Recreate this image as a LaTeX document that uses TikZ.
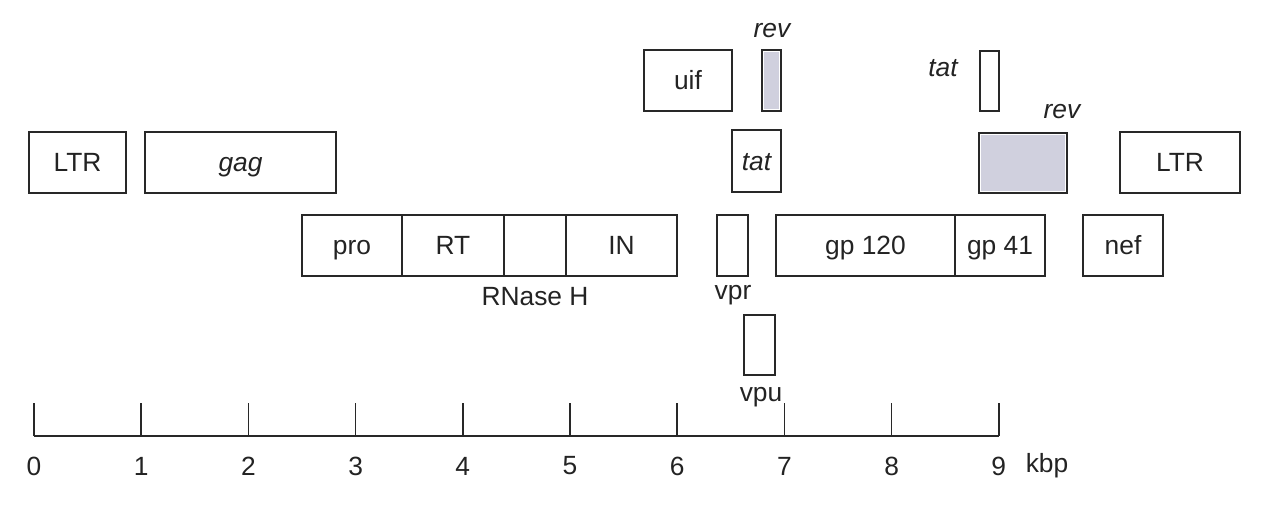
\documentclass[tikz,border=0pt]{standalone}
\usepackage{fontspec}
\setmainfont{Liberation Sans}
\definecolor{boxline}{RGB}{40,40,40}
\definecolor{txt}{RGB}{35,35,35}
\definecolor{revfill}{RGB}{208,208,222}
\newcommand\gbox[6]{\node[gbox, minimum width={(#4-#2)*0.02cm}, minimum height={(#5-#3)*0.02cm}] (#1) at ({(#2+#4)/2},{(#3+#5)/2}) {#6};}
\begin{document}
\begin{tikzpicture}[x=0.02cm,y=-0.02cm,
  gbox/.style={draw=boxline, line width=1pt, inner sep=0pt, outer sep=0pt, text=txt,
    text height=12.2pt, text depth=1.5pt, font=\fontsize{15}{17}\selectfont},
  lbl/.style={font=\fontsize{15}{17}\selectfont, inner sep=1pt, text=txt},
  ilbl/.style={lbl, font=\fontsize{15}{17}\selectfont\itshape},
  axisline/.style={draw=boxline, line width=1.2pt},
  tickline/.style={draw=boxline, line width=0.9pt}]
\useasboundingbox (0,0) rectangle (1261,504);
% row 1
\gbox{uif}{644}{50}{732}{111}{uif}
\gbox{revA}{762}{50}{781}{111}{}
\fill[revfill] ([xshift=1pt,yshift=1pt]revA.south west) rectangle ([xshift=-1pt,yshift=-1pt]revA.north east);
\node[ilbl] (revAl) at (772,31) {rev};
\gbox{tatB}{980}{51}{999}{111}{}
\node[ilbl] (tatBl) at (943,68) {tat};
% row 2
\gbox{ltrL}{29}{132}{126}{193}{LTR}
\gbox{gag}{145}{132}{336}{193}{\itshape gag}
\gbox{tatA}{732}{130}{781}{192}{\itshape tat}
\gbox{revB}{979}{133}{1067}{193}{}
\fill[revfill] ([xshift=1pt,yshift=1pt]revB.south west) rectangle ([xshift=-1pt,yshift=-1pt]revB.north east);
\node[ilbl] (revBl) at (1062,112) {rev};
\gbox{ltrR}{1120}{132}{1240}{193}{LTR}
% row 3
\gbox{pro}{302}{215}{402}{276}{pro}
\gbox{rt}{402}{215}{504}{276}{RT}
\gbox{rnase}{504}{215}{566}{276}{}
\gbox{in}{566}{215}{677}{276}{IN}
\node[lbl] (rnasel) at (535,297) {RNase H};
\gbox{vpr}{717}{215}{748}{276}{}
\node[lbl] (vprl) at (733,295) {vpr};
\gbox{gp120}{776}{215}{955}{276}{gp 120}
\gbox{gp41}{955}{215}{1045}{276}{gp 41}
\gbox{nef}{1083}{215}{1163}{276}{nef}
% row 4
\gbox{vpu}{744}{315}{775}{375}{}
\node[lbl] (vpul) at (761,397) {vpu};
% axis
\foreach \i in {0,...,9} {
  \coordinate (b\i) at ({34+\i*107.2},436);
  \coordinate (t\i) at ({34+\i*107.2},403);
  \draw[tickline] (b\i) -- (t\i);
  \node[lbl] (n\i) at ({34+\i*107.2},466) {\i};
}
\draw[axisline] (b0) -- (b9);
\node[lbl] (kbp) at (1047,466) {kbp};
\end{tikzpicture}
\end{document}
